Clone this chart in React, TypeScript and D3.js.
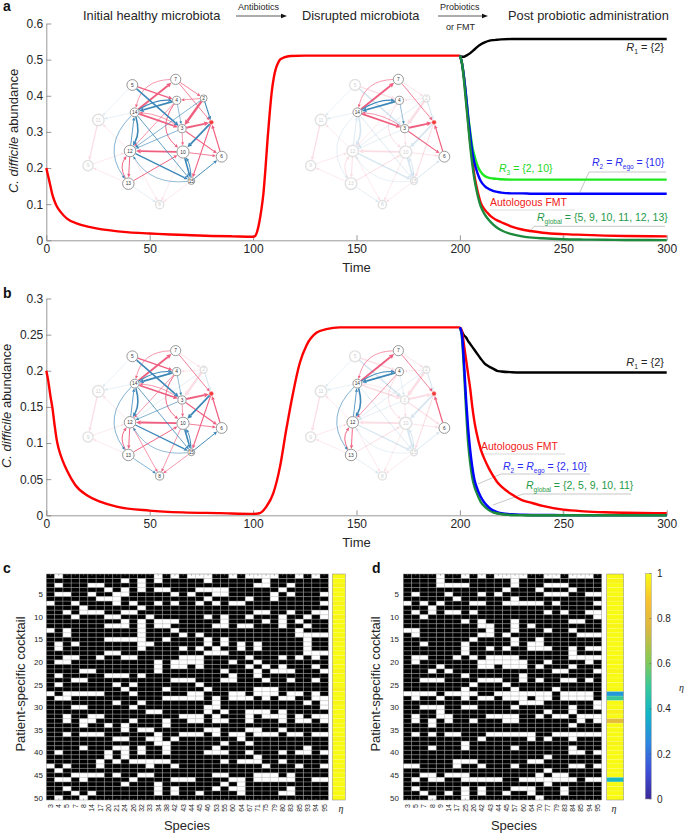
import { useEffect, useRef } from 'react'
import * as d3 from 'd3'

// ---- time courses
const preTimeA = [0, 1, 2, 3, 4, 5, 7, 10, 15, 20, 30, 40, 50, 60, 70, 80, 90, 100, 101, 102, 103, 104, 105, 106, 107, 108, 109, 110, 111, 112, 113, 115, 118, 125, 200]
const preRedA = [0.2, 0.175, 0.15, 0.125, 0.108, 0.095, 0.078, 0.06, 0.046, 0.038, 0.028, 0.022, 0.019, 0.016, 0.014, 0.012, 0.011, 0.01, 0.012, 0.025, 0.05, 0.085, 0.13, 0.2, 0.28, 0.35, 0.41, 0.45, 0.475, 0.49, 0.5, 0.506, 0.51, 0.511, 0.511]
const postTimeA = [200, 201, 202, 203, 204, 205, 206, 207, 208, 209, 210, 212, 214, 216, 218, 220, 225, 230, 235, 240, 250, 260, 270, 280, 300]
const postBlackA = [0.511, 0.508, 0.508, 0.511, 0.514, 0.518, 0.523, 0.528, 0.533, 0.538, 0.542, 0.548, 0.552, 0.554, 0.555, 0.556, 0.557, 0.557, 0.557, 0.557, 0.557, 0.557, 0.557, 0.557, 0.557]
const postLimeA = [0.511, 0.49, 0.45, 0.4, 0.345, 0.3, 0.26, 0.235, 0.215, 0.2, 0.19, 0.178, 0.173, 0.171, 0.17, 0.169, 0.168, 0.168, 0.168, 0.168, 0.168, 0.168, 0.168, 0.168, 0.168]
const postBlueA = [0.511, 0.49, 0.45, 0.4, 0.34, 0.29, 0.245, 0.215, 0.195, 0.178, 0.165, 0.15, 0.142, 0.137, 0.134, 0.132, 0.13, 0.13, 0.129, 0.129, 0.129, 0.129, 0.129, 0.129, 0.129]
const postRedA = [0.511, 0.49, 0.45, 0.39, 0.33, 0.27, 0.225, 0.18, 0.15, 0.125, 0.105, 0.085, 0.072, 0.062, 0.055, 0.05, 0.038, 0.03, 0.025, 0.021, 0.017, 0.015, 0.013, 0.012, 0.011]
const postGreenA = [0.511, 0.49, 0.44, 0.38, 0.32, 0.26, 0.21, 0.17, 0.14, 0.115, 0.095, 0.072, 0.056, 0.044, 0.035, 0.028, 0.017, 0.011, 0.0075, 0.0055, 0.003, 0.002, 0.0015, 0.001, 0.0005]

const preTimeB = [0, 1, 2, 3, 4, 5, 6, 8, 10, 14, 20, 26, 34, 50, 66, 84, 100, 103, 106.4, 109.7, 113, 116, 119.3, 122.5, 125.8, 130.6, 135.4, 142, 150, 200]
const preRedB = [0.2, 0.185, 0.165, 0.148, 0.125, 0.105, 0.092, 0.075, 0.062, 0.042, 0.027, 0.019, 0.012, 0.0065, 0.004, 0.003, 0.002, 0.0028, 0.012, 0.03, 0.067, 0.118, 0.169, 0.21, 0.235, 0.2525, 0.2576, 0.26, 0.26, 0.26]
const postTimeB = [200, 201, 202, 203, 204, 205, 206, 207, 208, 210, 212, 214, 216, 218, 220, 225, 230, 235, 240, 250, 260, 270, 280, 300]
const postBlackB = [0.26, 0.254, 0.249, 0.246, 0.241, 0.237, 0.233, 0.229, 0.225, 0.217, 0.21, 0.206, 0.203, 0.2, 0.199, 0.198, 0.1977, 0.1977, 0.1977, 0.1977, 0.1977, 0.1977, 0.1977, 0.1977]
const postRedB = [0.26, 0.255, 0.235, 0.215, 0.195, 0.175, 0.15, 0.13, 0.115, 0.092, 0.077, 0.065, 0.055, 0.046, 0.04, 0.029, 0.021, 0.017, 0.013, 0.0078, 0.0055, 0.0042, 0.0035, 0.0028]
const postBlueB = [0.26, 0.25, 0.21, 0.16, 0.12, 0.09, 0.067, 0.05, 0.04, 0.026, 0.017, 0.011, 0.007, 0.0045, 0.003, 0.0014, 0.0008, 0.0005, 0.0004, 0.0003, 0.0003, 0.0003, 0.0003, 0.0003]
const postGreenB = [0.26, 0.245, 0.2, 0.145, 0.1, 0.072, 0.052, 0.04, 0.032, 0.019, 0.012, 0.0075, 0.0045, 0.0028, 0.0018, 0.0005, 0.0002, 0.0001, 0.0001, 0.0001, 0.0001, 0.0001, 0.0001, 0.0001]

// ---- interaction network
const nodeIds = [5, 7, 4, 2, 14, 11, 3, 1, 12, 10, 6, 9, 13, 15, 8]
const nodeU = [397, 527, 530, 611, 404, 295, 546, 634, 390, 549, 665, 264, 385, 574, 479]
const nodeV = [255, 238, 301, 295, 337, 360, 386, 367, 453, 456, 470, 497, 551, 543, 614]
const nodeSize = [16, 15, 12, 10, 13, 17, 12, 6, 17, 18, 16, 15, 17, 10, 12]

// [from, to, strength]
const promoting = [
  [14, 7, 2.4], [7, 14, 0.8], [5, 4, 1.6], [7, 2, 1], [7, 1, 1], [2, 4, 0.8], [2, 3, 3], [14, 3, 2], [3, 14, 0.8],
  [3, 1, 2.4], [3, 6, 1.4], [3, 10, 0.8], [4, 10, 1.2], [4, 12, 0.8], [10, 12, 2.2], [10, 6, 1], [1, 15, 1.4],
  [6, 1, 1.5], [12, 13, 1.2], [13, 12, 1.2], [13, 10, 1.2], [11, 9, 1.6], [12, 11, 0.8], [9, 12, 0.8], [13, 9, 0.8],
  [12, 8, 0.8], [10, 8, 0.8], [15, 8, 0.8],
]
const inhibiting = [
  [5, 3, 2], [4, 14, 2.2], [14, 4, 1.4], [2, 1, 1.4], [4, 3, 0.7], [2, 12, 0.8], [3, 12, 0.8], [14, 12, 2], [12, 14, 1],
  [14, 15, 1], [12, 15, 1.6], [15, 12, 0.7], [14, 13, 0.8], [1, 10, 2.2], [15, 6, 1.2], [10, 15, 2], [15, 10, 1.2],
  [5, 11, 0.6], [14, 11, 0.7], [13, 8, 0.8],
]
const curvedEdges: Record<string, number> = {
  '7-14': 60, '14-4': -20, '3-14': 20, '4-10': 70, '13-12': -30, '14-12': -24, '15-12': -64, '14-13': 90, '15-10': 10,
}

const speciesHealthyA = [5, 7, 4, 2, 14, 3, 1, 12, 10, 6, 13, 15]
const speciesDisruptedA = [7, 4, 14, 3, 1, 6]
const speciesHealthyB = [5, 7, 4, 14, 3, 1, 12, 10, 6, 13, 15, 8]
const speciesDisruptedB = [7, 4, 14, 1, 6, 12, 13]

// ---- cocktails: white cells per patient
const speciesC = ['3', '4', '5', '7', '8', '14', '17', '20', '21', '24', '26', '32', '33', '34', '38', '42', '43', '44', '45', '46', '53', '55', '60', '64', '67', '71', '75', '79', '80', '83', '85', '93', '94', '95']
const speciesD = ['3', '5', '7', '8', '9', '14', '17', '25', '26', '42', '43', '44', '45', '57', '60', '64', '70', '77', '79', '83', '84', '85', '94', '95']
const whiteC = [
  [1, 13, 15, 17, 18, 19, 22, 24, 25, 26, 27, 30, 32],
  [9, 11, 13, 19, 26],
  [1, 5, 6, 11, 25, 26, 29],
  [7, 9, 11, 13, 14, 18, 19, 20, 21, 28],
  [1, 2, 5, 8, 9, 15, 17, 20, 21, 27, 29, 33],
  [6, 7, 8, 19, 24, 27],
  [0, 3, 8, 10, 13, 15, 18, 20, 22, 23, 33],
  [4, 11],
  [2, 4, 5, 6, 9, 10, 25, 26, 29, 32, 33],
  [3, 7, 8, 12, 19, 21, 24, 28, 31, 33],
  [9, 11, 13, 14, 15, 21, 26, 28, 30],
  [7, 8, 9, 11, 13, 14, 20, 21, 23, 24, 28, 31],
  [0, 2, 11, 15, 30],
  [2, 11, 16, 18, 30, 31, 32, 33],
  [7, 8, 9, 10, 11, 14, 19, 21, 31],
  [1, 3, 11, 12, 19, 21, 23, 25, 31],
  [1, 11, 16, 18, 20, 23, 25, 31],
  [7, 8, 19, 20, 21, 31, 32, 33],
  [2, 3, 6, 9, 10, 16, 17, 18, 24, 28, 30, 32],
  [1, 2, 13, 15, 16, 17, 18, 22, 25],
  [13, 15, 16, 18, 24, 26, 28, 32],
  [4, 5, 13, 21, 25, 27, 28, 29, 33],
  [1, 7, 8, 9, 11, 22, 25],
  [3, 4, 15, 16, 17, 21, 22, 26, 29, 32],
  [1, 8, 10, 18],
  [9, 14, 19, 25, 26, 27],
  [0, 2, 3, 4, 5, 6, 10, 17, 18, 22, 23, 25, 26, 27, 29, 30, 32],
  [1, 2, 14, 15, 16, 17, 18, 20, 22, 23, 24, 26, 28, 29, 32, 33],
  [8, 11, 20, 31, 33],
  [3, 4, 10, 19, 20, 33],
  [12, 13, 19, 21, 24, 25, 26, 28],
  [2, 5, 6, 16, 17, 18, 20, 24, 26, 27, 28, 30, 32, 33],
  [2, 4, 5, 10, 14, 17, 18, 20, 21, 24, 28, 30, 31, 33],
  [4, 7, 9, 14],
  [9, 11, 12, 19, 20, 24, 25, 28],
  [2, 4, 5, 6, 13, 16, 17, 18, 20, 22, 23, 25, 26, 27, 29, 30, 32, 33],
  [8, 9, 12, 13, 15, 23],
  [13, 14, 21, 24],
  [4, 8, 9, 11, 14, 20, 31],
  [1, 7, 9, 11, 14, 19, 20, 21, 24, 28, 30, 31, 33],
  [7, 9, 25],
  [6, 8, 10, 11, 12, 13, 14, 21, 23, 24, 25, 28],
  [0, 2, 6, 12, 15, 26, 30, 33],
  [1],
  [3, 4, 5, 6, 8, 11, 12, 20, 21, 25, 26, 27, 29],
  [1, 2, 4, 10, 15, 16, 17, 22, 23, 25, 26, 27, 28, 29, 32, 33],
  [9, 13, 21, 23],
  [2, 13, 15, 20, 22, 23, 29],
  [3, 5, 13, 15, 18, 23, 28, 29],
  [1, 4],
]
const whiteD = [
  [4, 7, 9, 11, 12, 13, 14, 17, 18, 20, 21, 22],
  [4, 13],
  [4, 5, 6, 7, 13, 17, 18, 19],
  [12, 16, 20],
  [1, 5, 9, 11, 17, 18, 19, 22, 23],
  [6, 13],
  [0, 2, 4, 8, 9, 12, 13, 14, 15, 16, 18, 23],
  [3],
  [1, 3, 5, 6, 8, 17, 19, 22, 23],
  [2, 23],
  [7, 9, 13, 20, 21],
  [9, 10, 13, 15],
  [0, 1, 10, 13, 17, 20],
  [1, 9, 10, 12, 21, 22, 23],
  [8, 13, 16],
  [2, 7, 13, 15, 16],
  [7, 10, 12, 15, 16, 17, 20, 22, 23],
  [7, 20],
  [1, 2, 6, 8, 10, 11, 12, 13, 20, 21, 22, 23],
  [1, 9, 10, 11, 12, 13, 14, 17, 22],
  [4, 9, 10, 12, 13, 14, 16, 20],
  [3, 5, 18, 19, 23],
  [7, 14],
  [2, 3, 4, 9, 10, 11, 14, 16, 19, 20, 22],
  [8, 12],
  [7, 13, 18],
  [0, 1, 2, 3, 5, 6, 7, 8, 11, 12, 13, 14, 15, 16, 17, 19, 20, 21, 22],
  [1, 4, 7, 9, 10, 12, 13, 14, 16, 17, 19, 20, 21, 22],
  [14, 15, 16, 23],
  [2, 3, 4, 7, 8, 13, 20, 23],
  [4, 17, 20],
  [1, 4, 5, 10, 11, 12, 13, 16, 18, 19, 21, 22, 23],
  [1, 3, 5, 8, 12, 13, 21, 23],
  [3, 20],
  [],
  [1, 3, 5, 6, 10, 11, 12, 13, 14, 15, 18, 19, 20, 21, 22, 23],
  [9, 15, 17, 20],
  [7],
  [3, 7, 13, 20],
  [20, 21, 23],
  [17],
  [6, 7, 8, 15, 16],
  [0, 1, 6, 9, 13, 20, 21, 23],
  [17],
  [2, 3, 5, 6, 7, 16, 18, 19],
  [1, 3, 4, 7, 8, 9, 10, 11, 14, 15, 16, 17, 18, 19, 20, 22, 23],
  [17],
  [1, 7, 9, 13, 14, 15, 19],
  [2, 5, 7, 9, 12, 15, 19],
  [3, 7, 16],
]
const etaC = [1, 1, 0.99, 1, 1, 1, 0.99, 1, 1, 0.99, 1, 1, 1, 1, 0.99, 1, 1, 1, 1, 1, 1, 0.99, 1, 1, 1, 0.98, 1, 1, 0.99, 1, 1, 1, 1, 1, 1, 1, 0.99, 1, 1, 1, 1, 1, 1, 0.99, 1, 1, 1, 1, 1, 1]
const etaD = [1, 0.99, 1, 1, 1, 0.99, 1, 1, 1, 1, 1, 0.99, 1, 1, 1, 1, 1, 1, 1, 1, 1, 0.99, 1, 1, 1, 1, 0.3, 0.5, 1, 1, 0.98, 1, 0.8, 1, 1, 1, 1, 0.99, 1, 1, 1, 1, 1, 1, 1, 0.4, 1, 1, 1, 1]

const etaTicks = [0, 0.2, 0.4, 0.6, 0.8, 1]
const etaStops = [0, 0.125, 0.25, 0.375, 0.5, 0.625, 0.75, 0.875, 1]
const etaColours = ['#3b2a98', '#3f4fd8', '#2c87e0', '#11b4c8', '#38c898', '#8cc850', '#d8b840', '#f8c030', '#f8fa12']

const FONT = '"Liberation Sans", Arial, sans-serif'
const INK = '#262626'
const AXIS = '#7d7d7d'
const RED = '#ff0000'
const BLUE = '#0000ff'
const LIME = '#1fe81f'
const GREEN = '#1b8a3c'
const PINK = '#ef5f80'
const STEEL = '#3d87b8'
const LINE_WIDTH = 2.4
const NOTE_SIZE = 10.5

type Sel = d3.Selection<any, any, any, any>
type Seg = [string, string?]

function rich(g: Sel, x: number, y: number, segs: Seg[], color: string, size: number, anchor = 'start') {
  const t = g.append('text').attr('x', x).attr('y', y).attr('fill', color)
    .attr('text-anchor', anchor).style('font-size', `${size}px`)
  let lowered = false
  segs.forEach(([txt, kind]) => {
    const sp = t.append('tspan').text(txt)
    if (kind === 'i') sp.style('font-style', 'italic')
    if (kind === 's') {
      sp.style('font-size', `${size * 0.62}px`).attr('dy', 2.5)
      lowered = true
    } else if (lowered) {
      sp.attr('dy', -2.5)
      lowered = false
    }
  })
}

function drawNetwork(svg: Sel, dx: number, dy: number, active: number[]) {
  // layout units are three per pixel
  const u = d3.scaleLinear().domain([0, 300]).range([dx, dx + 100])
  const v = d3.scaleLinear().domain([0, 300]).range([dy, dy + 100])
  const g = svg.append('g')
  const pos = (id: number) => {
    const i = nodeIds.indexOf(id)
    return { x: u(nodeU[i]), y: v(nodeV[i]), r: (u(nodeSize[i]) - u(0)) + 0.4 }
  }
  const isOn = (a: number, b: number) => active.includes(a) && active.includes(b)

  const edge = (e: number[], color: string) => {
    const [from, to, w] = e
    const s = pos(from)
    const t = pos(to)
    const len = Math.hypot(t.x - s.x, t.y - s.y)
    const bend = (curvedEdges[`${from}-${to}`] || 0) / 3
    const cx = (s.x + t.x) / 2 + (-(t.y - s.y) / len) * bend
    const cy = (s.y + t.y) / 2 + ((t.x - s.x) / len) * bend
    const sa = Math.atan2(cy - s.y, cx - s.x)
    const ta = Math.atan2(cy - t.y, cx - t.x)
    const head = 2.6 + w * 0.9
    const half = 1 + w * 0.55
    const x0 = s.x + Math.cos(sa) * s.r
    const y0 = s.y + Math.sin(sa) * s.r
    const tipX = t.x + Math.cos(ta) * t.r
    const tipY = t.y + Math.sin(ta) * t.r
    const x1 = tipX + Math.cos(ta) * head
    const y1 = tipY + Math.sin(ta) * head
    const p = d3.path()
    p.moveTo(x0, y0)
    p.quadraticCurveTo(cx, cy, x1, y1)
    const on = isOn(from, to)
    const eg = g.append('g').attr('opacity', on ? 1 : 0.2)
    eg.append('path').attr('d', p.toString()).attr('fill', 'none').attr('stroke', color).attr('stroke-width', w * 0.8)
    const nx = -Math.sin(ta) * half
    const ny = Math.cos(ta) * half
    eg.append('path')
      .attr('d', `M${tipX},${tipY}L${x1 + nx},${y1 + ny}L${x1 - nx},${y1 - ny}Z`)
      .attr('fill', color)
  }
  promoting.forEach(e => edge(e, PINK))
  inhibiting.forEach(e => edge(e, STEEL))

  nodeIds.forEach(id => {
    const n = pos(id)
    const on = active.includes(id)
    const ng = g.append('g').attr('opacity', on ? 1 : 0.25)
    if (id === 1) {
      ng.append('circle').attr('cx', n.x).attr('cy', n.y).attr('r', n.r - 0.3)
        .attr('fill', '#f23a3a').attr('stroke', '#ff9090').attr('stroke-width', 0.5)
    } else {
      ng.append('circle').attr('cx', n.x).attr('cy', n.y).attr('r', n.r - 0.3)
        .attr('fill', 'white').attr('stroke', '#8c8c8c').attr('stroke-width', on ? 0.9 : 1.4)
      ng.append('text').attr('x', n.x).attr('y', n.y + 1.7).attr('text-anchor', 'middle')
        .attr('fill', '#333').style('font-size', '4.8px').text(id)
    }
  })
}

function drawTimePanel(svg: Sel, top: number, bottom: number, yMax: number, yTicks: number[], yTitleX: number, timeBaseline: number, series: { t: number[]; v: number[]; c: string }[]) {
  const x = d3.scaleLinear().domain([0, 300]).range([46.3, 666.7])
  const y = d3.scaleLinear().domain([0, yMax]).range([bottom, top])
  const g = svg.append('g')

  const xa = g.append('g').attr('transform', `translate(0,${bottom})`)
    .call(d3.axisBottom(x).tickValues([0, 50, 100, 150, 200, 250, 300]).tickFormat(d3.format('d') as any).tickSizeInner(-5).tickSizeOuter(0).tickPadding(4))
  const ya = g.append('g').attr('transform', 'translate(46.3,0)')
    .call(d3.axisLeft(y).tickValues(yTicks).tickFormat((d: any) => String(d)).tickSizeInner(-5).tickSizeOuter(0).tickPadding(3))
  ;[xa, ya].forEach(a => {
    a.selectAll('path,line').attr('stroke', AXIS).attr('stroke-width', 0.8)
    a.selectAll('text').attr('fill', INK).style('font-family', FONT).style('font-size', '12px')
  })

  series.forEach(s => {
    const path = d3.line<number>()
      .x((d) => x(d))
      .y((_, i) => y(s.v[i]))
      .curve(d3.curveMonotoneX)
    g.append('path').attr('d', path(s.t)).attr('fill', 'none').attr('stroke', s.c).attr('stroke-width', LINE_WIDTH)
  })

  g.append('text').attr('x', x(150)).attr('y', timeBaseline).attr('text-anchor', 'middle')
    .attr('fill', INK).style('font-size', '13px').text('Time')
  const cy = (top + bottom) / 2 - 1
  const title = g.append('text').attr('transform', `translate(${yTitleX},${cy}) rotate(-90)`)
    .attr('text-anchor', 'middle').attr('fill', INK).style('font-size', '13px')
  title.append('tspan').style('font-style', 'italic').text('C. difficile')
  title.append('tspan').text(' abundance')
}

function drawMatrix(svg: Sel, left: number, right: number, labels: string[], white: number[][], eta: number[], etaLeft: number, etaRight: number, titleX: number, tickRight: number, speciesX: number, etaLabelX: number) {
  const top = 574
  const bottom = 800
  const rows = d3.range(1, 51)
  const x = d3.scaleBand<string>().domain(labels).range([left, right])
  const y = d3.scaleBand<number>().domain(rows).range([top, bottom])
  const color = d3.scaleLinear<string>().domain(etaStops).range(etaColours)
  const g = svg.append('g')

  rows.forEach((r, ri) => {
    labels.forEach((c, ci) => {
      g.append('rect').attr('x', x(c)!).attr('y', y(r)!).attr('width', x.bandwidth()).attr('height', y.bandwidth())
        .attr('fill', white[ri].includes(ci) ? 'white' : 'black')
    })
  })
  rows.slice(1).forEach(r => {
    g.append('line').attr('x1', left).attr('x2', right).attr('y1', y(r)!).attr('y2', y(r)!)
      .attr('stroke', '#a8a8a8').attr('stroke-width', 0.45)
  })
  labels.slice(1).forEach(c => {
    g.append('line').attr('x1', x(c)!).attr('x2', x(c)!).attr('y1', top).attr('y2', bottom)
      .attr('stroke', '#a8a8a8').attr('stroke-width', 0.45)
  })
  labels.forEach(c => {
    const cx = x(c)! + x.bandwidth() / 2
    g.append('line').attr('x1', cx).attr('x2', cx).attr('y1', top).attr('y2', top + 1.8).attr('stroke', '#777').attr('stroke-width', 0.5)
    g.append('line').attr('x1', cx).attr('x2', cx).attr('y1', bottom - 1.8).attr('y2', bottom).attr('stroke', '#777').attr('stroke-width', 0.5)
    g.append('text').attr('transform', `translate(${cx + 2.4},804) rotate(-90)`).attr('text-anchor', 'end')
      .attr('fill', INK).style('font-size', '7px').text(c)
  })
  g.append('rect').attr('x', left).attr('y', top).attr('width', right - left).attr('height', bottom - top)
    .attr('fill', 'none').attr('stroke', '#888').attr('stroke-width', 0.5)

  rows.filter(r => r % 5 === 0).forEach(r => {
    g.append('text').attr('x', tickRight).attr('y', y(r)! + y.bandwidth() / 2 + 2.8).attr('text-anchor', 'end')
      .attr('fill', INK).style('font-size', '8px').text(r)
  })

  rows.forEach((r, ri) => {
    g.append('rect').attr('x', etaLeft).attr('y', y(r)!).attr('width', etaRight - etaLeft).attr('height', y.bandwidth())
      .attr('fill', color(eta[ri]))
  })
  rows.slice(1).forEach(r => {
    g.append('line').attr('x1', etaLeft).attr('x2', etaRight).attr('y1', y(r)!).attr('y2', y(r)!)
      .attr('stroke', 'white').attr('stroke-opacity', 0.45).attr('stroke-width', 0.4)
  })
  g.append('rect').attr('x', etaLeft).attr('y', top).attr('width', etaRight - etaLeft).attr('height', bottom - top)
    .attr('fill', 'none').attr('stroke', '#999').attr('stroke-width', 0.6)

  g.append('text').attr('transform', `translate(${titleX},684) rotate(-90)`).attr('text-anchor', 'middle')
    .attr('fill', INK).style('font-size', '13px').text('Patient-specific cocktail')
  g.append('text').attr('x', speciesX).attr('y', 830).attr('text-anchor', 'middle')
    .attr('fill', INK).style('font-size', '13px').text('Species')
  g.append('text').attr('x', etaLabelX).attr('y', 812).attr('text-anchor', 'middle')
    .attr('fill', INK).style('font-size', '10px').style('font-style', 'italic').style('font-family', '"Liberation Serif", serif').text('η')
}

function drawColourbar(svg: Sel) {
  const left = 645.3
  const right = 651.3
  const y = d3.scaleLinear().domain([0, 1]).range([799, 573.5])
  const color = d3.scaleLinear<string>().domain(etaStops).range(etaColours)
  const defs = svg.append('defs')
  const grad = defs.append('linearGradient').attr('id', 'etaGrad').attr('x1', 0).attr('y1', 1).attr('x2', 0).attr('y2', 0)
  etaStops.forEach(s => grad.append('stop').attr('offset', s).attr('stop-color', color(s)))
  const g = svg.append('g')
  g.append('rect').attr('x', left).attr('y', y(1)).attr('width', right - left).attr('height', y(0) - y(1))
    .attr('fill', 'url(#etaGrad)').attr('stroke', '#999').attr('stroke-width', 0.5)
  etaTicks.forEach(t => {
    g.append('line').attr('x1', right - 2).attr('x2', right).attr('y1', y(t)).attr('y2', y(t)).attr('stroke', '#555').attr('stroke-width', 0.5)
    g.append('text').attr('x', 657).attr('y', y(t) + 3.6).attr('fill', INK).style('font-size', '10px').text(t)
  })
  g.append('text').attr('x', 679).attr('y', 691).attr('fill', INK).style('font-size', '10px').style('font-style', 'italic')
    .style('font-family', '"Liberation Serif", serif').text('η')
}

function leader(g: Sel, pts: [number, number][], color = '#b0b0b0') {
  g.append('path').attr('d', d3.line()(pts)).attr('fill', 'none').attr('stroke', color).attr('stroke-width', 0.7)
}

function arrow(g: Sel, x1: number, x2: number, y: number) {
  g.append('line').attr('x1', x1).attr('x2', x2 - 4).attr('y1', y).attr('y2', y).attr('stroke', '#111').attr('stroke-width', 0.7)
  g.append('path').attr('d', `M${x2},${y}L${x2 - 6},${y - 2.2}L${x2 - 6},${y + 2.2}Z`).attr('fill', '#111')
}

export default function App() {
  const ref = useRef<SVGSVGElement>(null)

  useEffect(() => {
    if (!ref.current) return
    const svg = d3.select(ref.current)
    svg.selectAll('*').remove()
    svg.style('font-family', FONT)

    // headline over panel a
    const head = svg.append('g')
    head.append('text').attr('x', 83).attr('y', 20).attr('fill', INK).style('font-size', '12.8px').text('Initial healthy microbiota')
    head.append('text').attr('x', 302).attr('y', 20).attr('fill', INK).style('font-size', '12.8px').text('Disrupted microbiota')
    head.append('text').attr('x', 508).attr('y', 20).attr('fill', INK).style('font-size', '12.8px').text('Post probiotic administration')
    head.append('text').attr('x', 238).attr('y', 10).attr('fill', INK).style('font-size', '9px').text('Antibiotics')
    head.append('text').attr('x', 440).attr('y', 10).attr('fill', INK).style('font-size', '9px').text('Probiotics')
    head.append('text').attr('x', 446).attr('y', 30).attr('fill', INK).style('font-size', '9px').text('or FMT')
    arrow(head, 236, 287, 16)
    arrow(head, 438, 488, 16)

    ;[['a', 3, 11], ['b', 3, 298], ['c', 3, 573], ['d', 372, 573]].forEach(([t, x, y]) => {
      svg.append('text').attr('x', x as number).attr('y', y as number).attr('fill', '#111')
        .style('font-size', '14px').style('font-weight', 'bold').text(t as string)
    })

    drawNetwork(svg, 0, 0, speciesHealthyA)
    drawNetwork(svg, 222.7, 0, speciesDisruptedA)
    drawNetwork(svg, 0, 271.3, speciesHealthyB)
    drawNetwork(svg, 222.7, 271.3, speciesDisruptedB)

    const notesA = svg.append('g')
    leader(notesA, [[580, 192], [589, 172], [666, 172]])
    leader(notesA, [[490, 210], [575, 210]], '#d0d0d0')
    leader(notesA, [[529, 233], [534, 226.3], [665, 226.3]])
    leader(notesA, [[563, 235], [563, 240]], '#b0b0b0')

    drawTimePanel(svg, 23.5, 240.3, 0.6, [0, 0.1, 0.2, 0.3, 0.4, 0.5, 0.6], 18, 272, [
      { t: preTimeA, v: preRedA, c: RED },
      { t: postTimeA, v: postBlackA, c: 'black' },
      { t: postTimeA, v: postRedA, c: RED },
      { t: postTimeA, v: postLimeA, c: LIME },
      { t: postTimeA, v: postBlueA, c: BLUE },
      { t: postTimeA, v: postGreenA, c: GREEN },
    ])

    const labelsA = svg.append('g')
    rich(labelsA, 664, 51, [['R', 'i'], ['1', 's'], [' = {2}']], INK, 11, 'end')
    rich(labelsA, 499, 172, [['R', 'i'], ['3', 's'], [' = {2, 10}']], '#22d822', NOTE_SIZE)
    rich(labelsA, 592, 166, [['R', 'i'], ['2', 's'], [' = '], ['R', 'i'], ['ego', 's'], [' = {10}']], '#2a2af0', NOTE_SIZE)
    rich(labelsA, 490, 206, [['Autologous FMT']], '#f02020', NOTE_SIZE)
    rich(labelsA, 537, 221, [['R', 'i'], ['global', 's'], [' = {5, 9, 10, 11, 12, 13}']], '#1f9a48', NOTE_SIZE)

    const notesB = svg.append('g')
    leader(notesB, [[481, 454], [565, 454]], '#c8c8c8')
    leader(notesB, [[478, 484], [501, 474], [590, 474]])
    leader(notesB, [[493, 505], [523, 494], [631, 494]])
    leader(notesB, [[563, 510], [563, 515]], '#b0b0b0')

    drawTimePanel(svg, 298.5, 515.3, 0.3, [0, 0.05, 0.1, 0.15, 0.2, 0.25, 0.3], 11, 547, [
      { t: preTimeB, v: preRedB, c: RED },
      { t: postTimeB, v: postBlackB, c: 'black' },
      { t: postTimeB, v: postRedB, c: RED },
      { t: postTimeB, v: postGreenB, c: GREEN },
      { t: postTimeB, v: postBlueB, c: BLUE },
    ])
    // tail of the green curve runs over the blue one
    const xTail = d3.scaleLinear().domain([0, 300]).range([46.3, 666.7])
    const yTail = d3.scaleLinear().domain([0, 0.3]).range([515.3, 298.5])
    const tail = d3.line<number>().x(d => xTail(d)).y((_, i) => yTail(postGreenB[i + 12])).curve(d3.curveMonotoneX)
    svg.append('path').attr('d', tail(postTimeB.slice(12))).attr('fill', 'none').attr('stroke', GREEN).attr('stroke-width', LINE_WIDTH)

    const labelsB = svg.append('g')
    rich(labelsB, 664, 366, [['R', 'i'], ['1', 's'], [' = {2}']], INK, 11, 'end')
    rich(labelsB, 481, 450, [['Autologous FMT']], '#f02020', NOTE_SIZE)
    rich(labelsB, 503, 470, [['R', 'i'], ['2', 's'], [' = '], ['R', 'i'], ['ego', 's'], [' = {2, 10}']], '#2a2af0', NOTE_SIZE)
    rich(labelsB, 526, 489, [['R', 'i'], ['global', 's'], [' = {2, 5, 9, 10, 11}']], '#1f9a48', NOTE_SIZE)

    drawMatrix(svg, 46.3, 328.3, speciesC, whiteC, etaC, 332.3, 345.3, 25, 43, 187, 341)
    drawMatrix(svg, 403.3, 601.7, speciesD, whiteD, etaD, 606.7, 623.7, 380, 399, 514, 614)
    drawColourbar(svg)
  }, [])

  return <svg ref={ref} width={685} height={834} style={{ position: 'absolute', left: 0, top: 0, background: 'white' }} />
}
